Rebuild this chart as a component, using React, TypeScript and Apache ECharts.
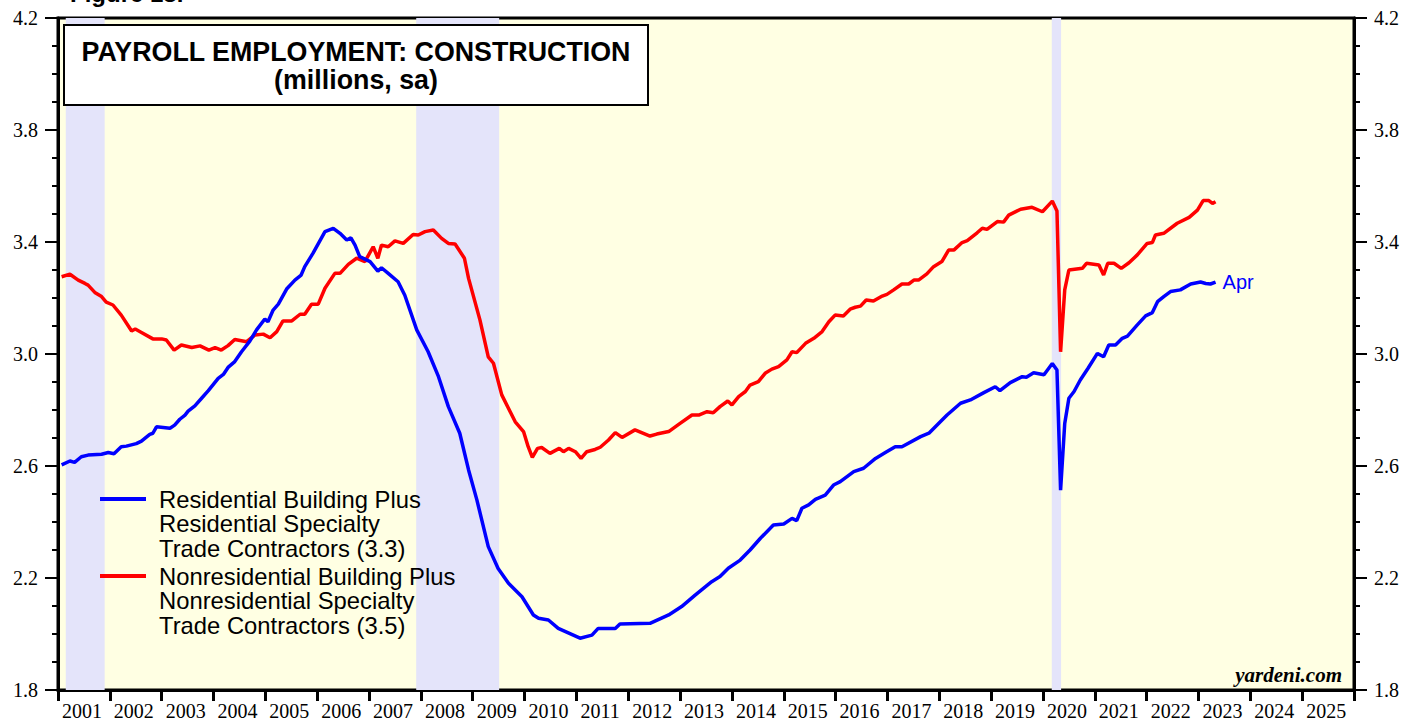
import React, { useEffect, useRef } from "react";
import * as echarts from "echarts";

const X_MIN = 2001;
const X_MAX = 2026;
const Y_MIN = 1.8;
const Y_MAX = 4.2;
const Y_STEP = 0.4;

const recessions: [number, number][] = [
  [2001.15, 2001.9],
  [2007.91, 2009.51],
  [2020.17, 2020.35],
];

const residential: [number, number][] = [
  [2001.07, 2.604], [2001.23, 2.618], [2001.32, 2.613], [2001.45, 2.633], [2001.58, 2.639],
  [2001.84, 2.642], [2001.97, 2.648], [2002.08, 2.644], [2002.22, 2.669], [2002.32, 2.671],
  [2002.51, 2.68], [2002.61, 2.689], [2002.77, 2.713], [2002.83, 2.717], [2002.9, 2.74],
  [2003.16, 2.735], [2003.25, 2.746], [2003.35, 2.767], [2003.45, 2.782], [2003.51, 2.796],
  [2003.64, 2.815], [2003.77, 2.842], [2003.9, 2.869], [2004.09, 2.913], [2004.19, 2.927],
  [2004.28, 2.952], [2004.41, 2.973], [2004.54, 3.008], [2004.7, 3.046], [2004.83, 3.086],
  [2004.99, 3.125], [2005.05, 3.115], [2005.15, 3.157], [2005.25, 3.178], [2005.41, 3.232],
  [2005.57, 3.264], [2005.69, 3.282], [2005.76, 3.312], [2005.92, 3.36], [2006.15, 3.437],
  [2006.31, 3.449], [2006.44, 3.431], [2006.57, 3.407], [2006.65, 3.415], [2006.73, 3.389],
  [2006.82, 3.348], [2007.02, 3.33], [2007.17, 3.296], [2007.24, 3.308], [2007.37, 3.288],
  [2007.56, 3.258], [2007.69, 3.21], [2007.92, 3.086], [2008.14, 3.008], [2008.34, 2.919],
  [2008.53, 2.812], [2008.75, 2.717], [2008.92, 2.586], [2009.08, 2.479], [2009.3, 2.312],
  [2009.49, 2.234], [2009.69, 2.181], [2009.95, 2.133], [2010.17, 2.068], [2010.27, 2.056],
  [2010.46, 2.05], [2010.65, 2.02], [2011.07, 1.985], [2011.3, 1.996], [2011.42, 2.02],
  [2011.75, 2.02], [2011.84, 2.036], [2012.42, 2.038], [2012.78, 2.068], [2013.03, 2.098],
  [2013.29, 2.139], [2013.61, 2.187], [2013.77, 2.205], [2013.93, 2.235], [2014.16, 2.264],
  [2014.35, 2.3], [2014.55, 2.342], [2014.8, 2.389], [2015.0, 2.393], [2015.16, 2.413],
  [2015.25, 2.405], [2015.35, 2.449], [2015.48, 2.461], [2015.61, 2.481], [2015.8, 2.496],
  [2015.96, 2.532], [2016.09, 2.544], [2016.35, 2.58], [2016.54, 2.592], [2016.77, 2.627],
  [2016.96, 2.648], [2017.15, 2.669], [2017.28, 2.669], [2017.64, 2.705], [2017.8, 2.717],
  [2018.02, 2.758], [2018.15, 2.782], [2018.41, 2.824], [2018.6, 2.836], [2018.86, 2.862],
  [2019.08, 2.883], [2019.17, 2.869], [2019.37, 2.898], [2019.6, 2.919], [2019.68, 2.917],
  [2019.82, 2.933], [2020.02, 2.926], [2020.18, 2.966], [2020.27, 2.943], [2020.34, 2.514],
  [2020.42, 2.752], [2020.5, 2.842], [2020.6, 2.866], [2020.72, 2.907], [2020.87, 2.949],
  [2021.05, 3.002], [2021.17, 2.99], [2021.27, 3.032], [2021.4, 3.032], [2021.53, 3.056],
  [2021.63, 3.064], [2021.82, 3.104], [2021.98, 3.136], [2022.11, 3.148], [2022.21, 3.187],
  [2022.33, 3.205], [2022.46, 3.223], [2022.65, 3.229], [2022.85, 3.25], [2023.04, 3.257],
  [2023.14, 3.252], [2023.23, 3.25], [2023.33, 3.257],
];

const nonresidential: [number, number][] = [
  [2001.07, 3.276], [2001.23, 3.285], [2001.39, 3.264], [2001.52, 3.252], [2001.58, 3.246],
  [2001.71, 3.22], [2001.84, 3.205], [2001.93, 3.185], [2002.06, 3.175], [2002.22, 3.139],
  [2002.42, 3.082], [2002.49, 3.089], [2002.61, 3.077], [2002.83, 3.054], [2003.0, 3.054],
  [2003.09, 3.05], [2003.24, 3.014], [2003.38, 3.032], [2003.58, 3.023], [2003.74, 3.029],
  [2003.91, 3.014], [2004.03, 3.023], [2004.15, 3.014], [2004.28, 3.03], [2004.41, 3.052],
  [2004.64, 3.044], [2004.8, 3.068], [2004.96, 3.071], [2005.09, 3.058], [2005.22, 3.08],
  [2005.34, 3.118], [2005.51, 3.118], [2005.67, 3.142], [2005.76, 3.142], [2005.89, 3.178],
  [2006.02, 3.178], [2006.15, 3.235], [2006.34, 3.288], [2006.44, 3.288], [2006.6, 3.32],
  [2006.76, 3.342], [2006.92, 3.33], [2007.08, 3.383], [2007.17, 3.342], [2007.24, 3.389],
  [2007.37, 3.383], [2007.5, 3.404], [2007.66, 3.395], [2007.85, 3.427], [2007.95, 3.425],
  [2008.08, 3.437], [2008.24, 3.443], [2008.4, 3.413], [2008.53, 3.395], [2008.66, 3.393],
  [2008.84, 3.342], [2008.92, 3.27], [2009.14, 3.121], [2009.3, 2.99], [2009.4, 2.967],
  [2009.56, 2.854], [2009.82, 2.758], [2009.98, 2.723], [2010.07, 2.669], [2010.15, 2.631],
  [2010.25, 2.663], [2010.33, 2.666], [2010.49, 2.645], [2010.67, 2.663], [2010.75, 2.651],
  [2010.85, 2.663], [2010.98, 2.651], [2011.09, 2.627], [2011.2, 2.651], [2011.36, 2.659],
  [2011.46, 2.667], [2011.62, 2.693], [2011.75, 2.719], [2011.88, 2.702], [2012.13, 2.729],
  [2012.42, 2.707], [2012.55, 2.714], [2012.78, 2.723], [2013.0, 2.752], [2013.23, 2.782],
  [2013.36, 2.782], [2013.52, 2.794], [2013.64, 2.79], [2013.77, 2.812], [2013.92, 2.832],
  [2014.0, 2.818], [2014.13, 2.848], [2014.26, 2.866], [2014.35, 2.889], [2014.51, 2.901],
  [2014.64, 2.931], [2014.77, 2.946], [2014.9, 2.955], [2015.06, 2.979], [2015.16, 3.008],
  [2015.25, 3.005], [2015.42, 3.038], [2015.58, 3.056], [2015.74, 3.08], [2015.87, 3.115],
  [2015.99, 3.139], [2016.15, 3.136], [2016.28, 3.16], [2016.38, 3.167], [2016.48, 3.171],
  [2016.59, 3.193], [2016.73, 3.189], [2016.9, 3.207], [2016.99, 3.213], [2017.12, 3.229],
  [2017.28, 3.25], [2017.41, 3.25], [2017.51, 3.264], [2017.6, 3.264], [2017.76, 3.286],
  [2017.89, 3.312], [2018.05, 3.33], [2018.18, 3.371], [2018.28, 3.371], [2018.44, 3.398],
  [2018.54, 3.405], [2018.73, 3.433], [2018.83, 3.449], [2018.92, 3.445], [2019.12, 3.473],
  [2019.24, 3.471], [2019.34, 3.496], [2019.57, 3.517], [2019.79, 3.524], [2019.99, 3.508],
  [2020.18, 3.546], [2020.27, 3.511], [2020.34, 3.008], [2020.42, 3.229], [2020.5, 3.3],
  [2020.76, 3.306], [2020.84, 3.324], [2021.08, 3.318], [2021.17, 3.282], [2021.25, 3.324],
  [2021.37, 3.324], [2021.51, 3.306], [2021.66, 3.326], [2021.82, 3.354], [2022.01, 3.395],
  [2022.11, 3.398], [2022.17, 3.425], [2022.33, 3.431], [2022.59, 3.467], [2022.82, 3.488],
  [2022.98, 3.514], [2023.09, 3.548], [2023.2, 3.548], [2023.27, 3.538], [2023.33, 3.544],
];

const residentialLegend = ["Residential Building Plus", "Residential Specialty", "Trade Contractors (3.3)"];
const nonresidentialLegend = ["Nonresidential Building Plus", "Nonresidential Specialty", "Trade Contractors (3.5)"];
const titleLines = ["PAYROLL EMPLOYMENT: CONSTRUCTION", "(millions, sa)"];
const figureLabel = "Figure 18.";
const lastMonthLabel = "Apr";
const sourceLabel = "yardeni.com";

const SANS = "'Liberation Sans', Arial, Helvetica, sans-serif";
const SERIF = "'Liberation Serif', 'Times New Roman', serif";

export default function App() {
  const ref = useRef<HTMLDivElement>(null);

  useEffect(() => {
    if (!ref.current) return;
    const chart = echarts.init(ref.current, null, { renderer: "svg" });

    const yAxisCommon = (position: "left" | "right") => ({
      type: "value",
      position,
      min: Y_MIN,
      max: Y_MAX,
      interval: Y_STEP,
      axisLine: { show: true, onZero: false, lineStyle: { color: "#000", width: 3 } },
      axisTick: { show: true, length: 13, lineStyle: { color: "#000", width: 2 } },
      minorTick: { show: true, splitNumber: 4, length: 6, lineStyle: { color: "#000", width: 2 } },
      splitLine: { show: false },
      axisLabel: {
        formatter: (v: number) => v.toFixed(1),
        fontFamily: SERIF,
        fontSize: 20,
        color: "#000",
        margin: 20,
      },
    });

    const legendGraphics: any[] = [];
    const addLegend = (lines: string[], color: string, y0: number) => {
      legendGraphics.push({
        type: "line",
        shape: { x1: 100, y1: y0, x2: 146, y2: y0 },
        style: { stroke: color, lineWidth: 4 },
        z: 100,
      });
      lines.forEach((t, i) => {
        legendGraphics.push({
          type: "text",
          x: 159,
          y: y0 + i * 24.5,
          style: { text: t, font: `23.8px ${SANS}`, fill: "#000", textVerticalAlign: "middle" },
          z: 100,
        });
      });
    };
    addLegend(residentialLegend, "#0000ff", 499);
    addLegend(nonresidentialLegend, "#ff0000", 576);

    const option: any = {
      animation: false,
      grid: {
        left: 58,
        right: 65,
        top: 18,
        bottom: 31,
        show: true,
        backgroundColor: "#ffffe3",
        borderColor: "#000",
        borderWidth: 3,
      },
      xAxis: {
        type: "value",
        min: X_MIN,
        max: X_MAX,
        interval: 1,
        axisLine: { show: true, onZero: false, lineStyle: { color: "#000", width: 3 } },
        axisTick: { show: true, length: 11, lineStyle: { color: "#000", width: 3 } },
        splitLine: { show: false },
        axisLabel: {
          formatter: (v: number) => (v < X_MAX ? String(v) : ""),
          align: "left",
          padding: [0, 0, 0, 4],
          fontFamily: SERIF,
          fontSize: 20,
          color: "#000",
          margin: 11,
          showMaxLabel: true,
        },
      },
      yAxis: [yAxisCommon("left"), yAxisCommon("right")],
      series: [
        {
          type: "line",
          name: "recessions",
          data: [],
          silent: true,
          z: 1,
          markArea: {
            silent: true,
            itemStyle: { color: "#e4e4fa" },
            data: recessions.map(([a, b]) => [{ xAxis: a }, { xAxis: b }]),
          },
        },
        {
          type: "line",
          name: residentialLegend.join(" "),
          data: residential,
          showSymbol: false,
          z: 5,
          lineStyle: { color: "#0000ff", width: 3.5 },
          itemStyle: { color: "#0000ff" },
          endLabel: {
            show: true,
            formatter: lastMonthLabel,
            color: "#0000ff",
            fontFamily: SANS,
            fontSize: 20,
            distance: 7,
          },
        },
        {
          type: "line",
          name: nonresidentialLegend.join(" "),
          data: nonresidential,
          showSymbol: false,
          z: 4,
          lineStyle: { color: "#ff0000", width: 3.5 },
          itemStyle: { color: "#ff0000" },
        },
      ],
      graphic: [
        {
          type: "text",
          x: 70,
          y: 5,
          style: { text: figureLabel, font: `bold 24px ${SANS}`, fill: "#000", textVerticalAlign: "bottom" },
          z: 100,
        },
        {
          type: "rect",
          shape: { x: 64, y: 25, width: 584, height: 80 },
          style: { fill: "#fff", stroke: "#000", lineWidth: 2 },
          z: 99,
        },
        {
          type: "text",
          x: 356,
          y: 52,
          style: { text: titleLines[0], font: `bold 26.8px ${SANS}`, fill: "#000", textAlign: "center", textVerticalAlign: "middle" },
          z: 100,
        },
        {
          type: "text",
          x: 356,
          y: 80,
          style: { text: titleLines[1], font: `bold 26.8px ${SANS}`, fill: "#000", textAlign: "center", textVerticalAlign: "middle" },
          z: 100,
        },
        ...legendGraphics,
        {
          type: "text",
          x: 1342,
          y: 675,
          style: { text: sourceLabel, font: `italic bold 21px ${SERIF}`, fill: "#000", textAlign: "right", textVerticalAlign: "middle" },
          z: 100,
        },
      ],
    };

    chart.setOption(option);
    return () => chart.dispose();
  }, []);

  return <div ref={ref} style={{ width: 1419, height: 721, position: "absolute", left: 0, top: 0 }} />;
}
